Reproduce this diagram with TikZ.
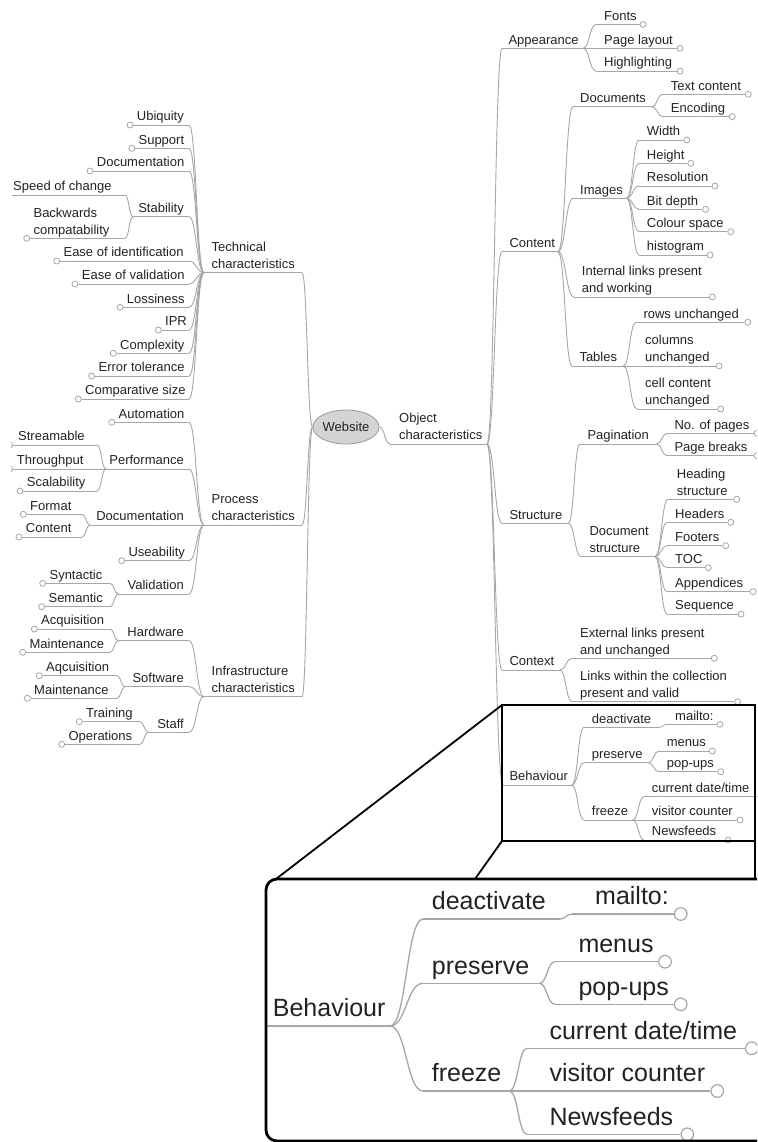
\documentclass[tikz,border=0pt]{standalone}
\usepackage{fontspec}
\setmainfont{Liberation Sans}
\usetikzlibrary{calc,shapes.geometric}
\definecolor{lc}{HTML}{A6A6A6}
\definecolor{tc}{HTML}{222222}
\definecolor{ellfill}{HTML}{D4D4D4}
\definecolor{elldraw}{HTML}{999999}
\tikzset{
 ln/.style={draw=lc, line width=0.9pt},
 pln/.style={draw=lc, line width=1.3pt},
 txt/.style={inner sep=0pt, text depth=0pt, font=\fontsize{13}{17}\selectfont, text=tc, align=left},
 ptxt/.style={inner sep=0pt, text depth=0pt, font=\fontsize{25}{30}\selectfont, text=tc, align=left},
 leafc/.style={circle, draw=lc, fill=white, line width=0.8pt, minimum size=6pt, inner sep=0pt},
 pleafc/.style={circle, draw=lc, fill=white, line width=1.2pt, minimum size=12.6pt, inner sep=0pt},
 framebox/.style={draw=black, line width=2pt},
 projline/.style={draw=black, line width=1.8pt},
 hub/.style={ellipse, draw=elldraw, fill=ellfill, line width=0.8pt, minimum width=52pt, minimum height=34pt, inner sep=0pt, font=\fontsize{13}{17}\selectfont, text=tc},
}
% right-side nodes: name, xs, text left, y, xe/circle x, text
\newcommand{\RMid}[6]{%
  \coordinate (#1-s) at (#2,#4);
  \coordinate (#1-e) at (#5,#4);
  \node[txt, anchor=south west] (#1) at (#3,{#4-4}) {#6};
  \draw[ln] (#1-s) -- (#1-e);}
\newcommand{\RLeaf}[6]{%
  \coordinate (#1-s) at (#2,#4);
  \node[leafc] (#1-c) at (#5,#4) {};
  \node[txt, anchor=south west] (#1) at (#3,{#4-4}) {#6};
  \draw[ln] (#1-s) -- (#1-c.west);}
% left-side nodes
\newcommand{\LLeaf}[5]{% name, circle x, y, xe, text
  \node[leafc] (#1-c) at (#2,#3) {};
  \coordinate (#1-e) at (#4,#3);
  \node[txt, anchor=south west] (#1) at ({#2+6.7},{#3-4}) {#5};
  \draw[ln] (#1-c.east) -- (#1-e);}
\newcommand{\LMid}[5]{% name, xs, y, xe, text
  \coordinate (#1-s) at (#2,#3);
  \coordinate (#1-e) at (#4,#3);
  \node[txt, anchor=south east] (#1) at ({#4-5},{#3-4}) {#5};
  \draw[ln] (#1-s) -- (#1-e);}
\newcommand{\LTop}[5]{% name, xs, y, xe, text
  \coordinate (#1-s) at (#2,#3);
  \coordinate (#1-e) at (#4,#3);
  \node[txt, anchor=south west] (#1) at ({#2+7.5},{#3-4.5}) {#5};
  \draw[ln] (#1-s) -- (#1-e);}
% panel nodes
\newcommand{\PMid}[6]{%
  \coordinate (#1-s) at (#2,#4);
  \coordinate (#1-e) at (#5,#4);
  \node[ptxt, anchor=south west] (#1) at (#3,{#4-9}) {#6};
  \draw[pln] (#1-s) -- (#1-e);}
\newcommand{\PLeaf}[6]{%
  \coordinate (#1-s) at (#2,#4);
  \node[pleafc] (#1-c) at (#5,#4) {};
  \node[ptxt, anchor=south west] (#1) at (#3,{#4-9}) {#6};
  \draw[pln] (#1-s) -- (#1-c.west);}
\newcommand{\mmconn}[3][ln]{\draw[#1] let \p1=(#2), \p2=(#3) in (\p1) .. controls ({(\x1+\x2)/2},\y1) and ({(\x1+\x2)/2},\y2) .. (\p2);}

\begin{document}
\begin{tikzpicture}[x=1pt,y=-1pt]
\useasboundingbox (0,0) rectangle (757,1142);
\clip (0,0) rectangle (757,1142);

% ---------------- hub
\node[hub] (web) at (346,427) {Website};

% ---------------- right side
\RMid{obj}{390}{399}{444}{487}{Object\\characteristics}
\RMid{app}{502}{508.3}{48.3}{583}{Appearance}
 \RLeaf{fonts}{596}{604}{24.5}{643}{Fonts}
 \RLeaf{playout}{596}{604}{48.3}{680}{Page layout}
 \RLeaf{hilite}{596}{604}{71}{680}{Highlighting}
\RMid{con}{502}{509.3}{251.7}{558}{Content}
 \RMid{docs}{573}{580}{106.7}{651.5}{Documents}
  \RLeaf{txtc}{663}{670.7}{94.3}{748.3}{Text content}
  \RLeaf{enc}{663}{670.7}{116.7}{732.3}{Encoding}
 \RMid{imgs}{573}{580}{198.3}{626.5}{Images}
  \RLeaf{wid}{639}{646.7}{140}{686.7}{Width}
  \RLeaf{hgt}{639}{646.7}{163.3}{690.7}{Height}
  \RLeaf{res}{639}{646.7}{186}{715}{Resolution}
  \RLeaf{bitd}{639}{646.7}{209.3}{705.7}{Bit depth}
  \RLeaf{cols}{639}{646.7}{231.7}{730.7}{Colour space}
  \RLeaf{hist}{639}{646.7}{255}{710}{histogram}
 \RLeaf{intl}{574}{581.7}{297}{712.3}{Internal links present\\and working}
 \RMid{tabs}{572}{579.3}{366}{623.3}{Tables}
  \RLeaf{rows}{636}{643.3}{322.3}{747.7}{rows unchanged}
  \RLeaf{colu}{637}{645}{366}{719}{columns\\unchanged}
  \RLeaf{cell}{637}{645}{409}{720.7}{cell content\\unchanged}
\RMid{struc}{502}{509.3}{523.3}{568.3}{Structure}
 \RMid{pag}{580}{587.3}{444}{656.7}{Pagination}
  \RLeaf{npag}{667}{674.3}{433.3}{757}{No. of pages}
  \RLeaf{pbrk}{667}{674.3}{455.7}{757}{Page breaks}
 \RMid{dstr}{581}{589.3}{556.7}{655}{Document\\structure}
  \RLeaf{head}{668}{676.7}{499.3}{736.7}{Heading\\structure}
  \RLeaf{hdrs}{667}{675}{522.3}{730.7}{Headers}
  \RLeaf{ftrs}{667}{675}{545.7}{725.7}{Footers}
  \RLeaf{toc}{667}{675}{567.7}{708.3}{TOC}
  \RLeaf{appx}{667}{675}{591.7}{753}{Appendices}
  \RLeaf{seq}{667}{675}{614}{741}{Sequence}
\RMid{ctx}{502}{509.3}{670}{560}{Context}
  \RLeaf{extl}{572}{580}{658.3}{714.3}{External links present\\and unchanged}
  \RLeaf{lnkc}{572}{580}{701.7}{737.7}{Links within the collection\\present and valid}
\RMid{beh}{503}{509.3}{785}{571.7}{Behaviour}
  \RMid{deac}{584}{591.7}{727.3}{660}{deactivate}
   \RLeaf{mail}{666}{675}{724.3}{720}{mailto:}
  \RMid{pres}{584}{591.7}{762.7}{648.3}{preserve}
   \RLeaf{menu}{659}{666.7}{751}{712.3}{menus}
   \RLeaf{popu}{659}{666.7}{771.7}{720.7}{pop-ups}
  \RMid{frz}{584}{591.7}{820}{632.7}{freeze}
   \RLeaf{cdt}{644}{651.7}{796.7}{766}{current date/time}
   \RLeaf{vis}{644}{651.7}{820}{740}{visitor counter}
   \RLeaf{news}{644}{651.7}{840}{728}{Newsfeeds}

\mmconn{web.east}{obj-s}
\foreach \c in {app,con,struc,ctx,beh} {\mmconn{obj-e}{\c-s}}
\foreach \c in {fonts,playout,hilite} {\mmconn{app-e}{\c-s}}
\foreach \c in {docs,imgs,intl,tabs} {\mmconn{con-e}{\c-s}}
\foreach \c in {txtc,enc} {\mmconn{docs-e}{\c-s}}
\foreach \c in {wid,hgt,res,bitd,cols,hist} {\mmconn{imgs-e}{\c-s}}
\foreach \c in {rows,colu,cell} {\mmconn{tabs-e}{\c-s}}
\foreach \c in {pag,dstr} {\mmconn{struc-e}{\c-s}}
\foreach \c in {npag,pbrk} {\mmconn{pag-e}{\c-s}}
\foreach \c in {head,hdrs,ftrs,toc,appx,seq} {\mmconn{dstr-e}{\c-s}}
\foreach \c in {extl,lnkc} {\mmconn{ctx-e}{\c-s}}
\foreach \c in {deac,pres,frz} {\mmconn{beh-e}{\c-s}}
\mmconn{deac-e}{mail-s}
\foreach \c in {menu,popu} {\mmconn{pres-e}{\c-s}}
\foreach \c in {cdt,vis,news} {\mmconn{frz-e}{\c-s}}

% ---------------- left side
\LTop{tech}{204}{272.7}{302}{Technical\\characteristics}
 \LLeaf{ubiq}{130}{125}{189}{Ubiquity}
 \LLeaf{supp}{131.7}{148.3}{189}{Support}
 \LLeaf{tdoc}{90}{171}{189}{Documentation}
 \LMid{stab}{133}{216.7}{189}{Stability}
  \coordinate (spd-s) at (12,195);
  \coordinate (spd-e) at (125,195);
  \node[txt, anchor=south west] (spd) at (13,191) {Speed of change};
  \draw[ln] (spd-s) -- (spd-e);
  \LLeaf{back}{26.7}{238.3}{125}{Backwards\\compatability}
 \LLeaf{eid}{56.7}{261}{189}{Ease of identification}
 \LLeaf{eval}{75}{284}{189}{Ease of validation}
 \LLeaf{loss}{120}{307.3}{189}{Lossiness}
 \LLeaf{ipr}{158.3}{330}{189}{IPR}
 \LLeaf{cplx}{113.3}{353.3}{189}{Complexity}
 \LLeaf{errt}{91.7}{376}{189}{Error tolerance}
 \LLeaf{csz}{78.3}{399}{189}{Comparative size}
\LTop{proc}{204}{525}{302}{Process\\characteristics}
 \LLeaf{auto}{111.7}{422.3}{189}{Automation}
 \LMid{perf}{106}{469}{189}{Performance}
  \begin{scope}
   \clip (10.8,430) rectangle (30,480);
   \node[leafc] (strm-c) at (9.5,445) {};
   \node[leafc] (thru-c) at (9.5,469) {};
  \end{scope}
  \coordinate (strm-e) at (97,445);
  \coordinate (thru-e) at (97,469);
  \node[txt, anchor=south west] (strm) at (18,441) {Streamable};
  \node[txt, anchor=south west] (thru) at (16.7,465) {Throughput};
  \draw[ln] (strm-c.east) -- (strm-e);
  \draw[ln] (thru-c.east) -- (thru-e);
  \LLeaf{scal}{20}{491}{97}{Scalability}
 \LMid{pdoc}{90}{525}{189}{Documentation}
  \LLeaf{fmt}{23.3}{514.3}{82}{Format}
  \LLeaf{pcon}{19}{537}{82}{Content}
 \LLeaf{use}{121.7}{560.7}{189}{Useability}
 \LMid{vali}{118.3}{594}{189}{Validation}
  \LLeaf{synt}{42.7}{583.3}{110}{Syntactic}
  \LLeaf{sem}{41.7}{606.7}{110}{Semantic}
\LTop{infra}{204}{696.7}{302}{Infrastructure\\characteristics}
 \LMid{hw}{118.3}{640.7}{189}{Hardware}
  \LLeaf{hwa}{34.3}{629}{110}{Acquisition}
  \LLeaf{hwm}{22.7}{652.3}{110}{Maintenance}
 \LMid{sw}{125}{686.7}{189}{Software}
  \LLeaf{swa}{39.3}{675.7}{117}{Aqcuisition}
  \LLeaf{swm}{27.3}{698.3}{117}{Maintenance}
 \LMid{staff}{148.3}{732.3}{189}{Staff}
  \LLeaf{tra}{79.3}{721.7}{140}{Training}
  \LLeaf{ops}{61.7}{744.3}{140}{Operations}

\foreach \c in {tech,proc,infra} {\mmconn{web.west}{\c-e}}
\foreach \c in {ubiq,supp,tdoc,stab,eid,eval,loss,ipr,cplx,errt,csz} {\mmconn{tech-s}{\c-e}}
\foreach \c in {spd,back} {\mmconn{stab-s}{\c-e}}
\foreach \c in {auto,perf,pdoc,use,vali} {\mmconn{proc-s}{\c-e}}
\foreach \c in {strm,thru,scal} {\mmconn{perf-s}{\c-e}}
\foreach \c in {fmt,pcon} {\mmconn{pdoc-s}{\c-e}}
\foreach \c in {synt,sem} {\mmconn{vali-s}{\c-e}}
\foreach \c in {hw,sw,staff} {\mmconn{infra-s}{\c-e}}
\foreach \c in {hwa,hwm} {\mmconn{hw-s}{\c-e}}
\foreach \c in {swa,swm} {\mmconn{sw-s}{\c-e}}
\foreach \c in {tra,ops} {\mmconn{staff-s}{\c-e}}

% ---------------- magnified panel
\PMid{pbeh}{266}{272.7}{1026}{390}{Behaviour}
 \PMid{pdeac}{423}{431.7}{919}{560}{deactivate}
  \PLeaf{pmail}{572}{595}{914}{680.7}{mailto:}
 \PMid{ppres}{423}{431.7}{983.3}{539.3}{preserve}
  \PLeaf{pmenu}{555}{578.3}{961.7}{665}{menus}
  \PLeaf{ppopu}{555}{578.3}{1004.3}{680.7}{pop-ups}
 \PMid{pfrz}{423}{431.7}{1091}{509.3}{freeze}
  \PLeaf{pcdt}{527}{549.3}{1048.3}{751.7}{current date/time}
  \PLeaf{pvis}{527}{549.3}{1091}{717.3}{visitor counter}
  \PLeaf{pnews}{527}{549.3}{1134.3}{687.3}{Newsfeeds}
\foreach \c in {pdeac,ppres,pfrz} {\mmconn[pln]{pbeh-e}{\c-s}}
\mmconn[pln]{pdeac-e}{pmail-s}
\foreach \c in {pmenu,ppopu} {\mmconn[pln]{ppres-e}{\c-s}}
\foreach \c in {pcdt,pvis,pnews} {\mmconn[pln]{pfrz-e}{\c-s}}

% ---------------- frames and projection lines
\coordinate (zb-tl) at (502,705);
\coordinate (zb-bl) at (502,841);
\coordinate (zb-br) at (755,841);
\coordinate (pn-tl) at (276,879);
\coordinate (pn-tm) at (475,879);
\coordinate (pn-tr) at (755,879);
\draw[framebox] (502,705) rectangle (755,841);
\draw[projline] (zb-tl) -- (pn-tl);
\draw[projline] (zb-bl) -- (pn-tm);
\draw[projline] (zb-br) -- (pn-tr);
\draw[draw=black, line width=2.8pt, rounded corners=11pt] (266,879) rectangle (785,1141);
\end{tikzpicture}
\end{document}
